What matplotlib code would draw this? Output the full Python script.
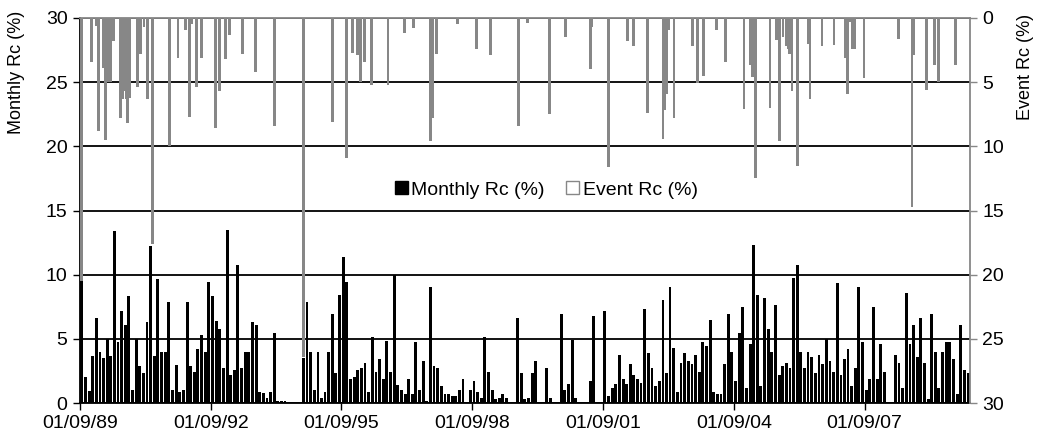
import matplotlib
matplotlib.use("Agg")
import matplotlib.pyplot as plt
import matplotlib.dates as mdates
from matplotlib.patches import Patch
import pandas as pd
import numpy as np

# ---------------- data ----------------
start_month = "1989-09-01"
monthly_rc = [
    17.2, 2.0, 0.9, 3.7, 6.6, 4.0, 3.5, 5.0, 3.7, 13.4,
    4.75, 7.15, 6.05, 8.3, 1.0, 5.0, 2.9, 2.3, 6.3, 12.2,
    3.7, 9.65, 4.0, 4.0, 7.9, 1.0, 3.0, 0.85, 1.0, 7.9,
    2.9, 2.45, 4.2, 5.3, 4.0, 9.45, 8.3, 6.4, 5.75, 2.75,
    13.5, 2.15, 2.6, 10.75, 2.75, 4.0, 4.0, 6.3, 6.05, 0.85,
    0.75, 0.4, 0.85, 5.45, 0.15, 0.15, 0.15, 0.0, 0.0, 0.0,
    0.0, 3.5, 7.9, 4.0, 1.0, 4.0, 0.4, 0.85, 4.0, 6.9,
    2.3, 8.45, 11.35, 9.45, 1.85, 2.0, 2.6, 2.75, 3.15, 0.85,
    5.15, 2.45, 3.45, 1.85, 4.85, 2.45, 10.0, 1.4, 1.0, 0.7,
    1.85, 0.7, 4.75, 1.0, 3.3, 0.15, 9.05, 2.85, 2.75, 1.3,
    0.7, 0.7, 0.55, 0.55, 1.0, 1.85, 0.0, 1.0, 1.7, 0.85,
    0.4, 5.15, 2.45, 1.0, 0.3, 0.4, 0.7, 0.4, 0.0, 0.0,
    6.6, 2.3, 0.3, 0.4, 2.3, 3.3, 0.0, 0.0, 2.75, 0.4,
    0.0, 0.0, 6.9, 1.0, 1.45, 4.9, 0.4, 0.0, 0.0, 0.0,
    1.7, 6.75, 0.0, 0.0, 7.2, 0.55, 1.15, 1.45, 3.75, 1.85,
    1.45, 3.05, 2.15, 1.85, 1.55, 7.3, 3.9, 2.75, 1.3, 1.7,
    8.05, 2.3, 9.05, 4.3, 0.85, 3.15, 3.9, 3.3, 3.05, 3.75,
    2.45, 4.75, 4.45, 6.45, 0.85, 0.7, 0.7, 3.05, 6.9, 4.0,
    1.7, 5.45, 7.45, 1.15, 4.6, 12.35, 8.45, 1.3, 8.2, 5.75,
    4.0, 7.6, 2.15, 2.85, 3.15, 2.75, 9.75, 10.75, 4.0, 2.75,
    4.0, 3.6, 2.3, 3.75, 3.05, 5.0, 3.3, 2.45, 9.35, 2.15,
    3.45, 4.2, 1.3, 2.75, 9.05, 4.75, 1.0, 1.85, 7.45, 1.85,
    4.6, 2.45, 0.0, 0.0, 3.75, 3.15, 1.15, 8.6, 4.6, 6.05,
    3.6, 6.6, 3.15, 0.3, 6.9, 4.0, 1.15, 4.0, 4.75, 4.75,
    3.45, 0.7, 6.05, 2.6, 2.3,
]

event_dates = [
    "1989-09-15", "1989-12-04", "1990-01-19", "1990-02-04", "1990-03-19",
    "1990-04-06", "1990-04-22", "1990-05-13", "1990-06-06", "1990-08-07",
    "1990-08-22", "1990-09-09", "1990-09-25", "1990-10-06", "1990-10-24",
    "1990-12-25", "1991-01-22", "1991-02-19", "1991-03-22", "1991-05-01",
    "1991-09-19", "1991-12-01", "1992-02-01", "1992-03-10", "1992-03-25",
    "1992-05-04", "1992-06-13", "1992-10-07", "1992-11-16", "1993-01-01",
    "1993-02-06", "1993-05-24", "1993-09-13", "1994-02-20", "1994-10-18",
    "1995-06-19", "1995-10-10", "1995-12-01", "1996-01-16", "1996-02-10",
    "1996-03-13", "1996-05-13", "1996-09-25", "1997-02-10", "1997-04-25",
    "1997-09-13", "1997-10-06", "1997-11-09", "1998-05-01", "1998-10-04",
    "1999-02-04", "1999-09-22", "1999-12-07", "2000-06-07", "2000-10-25",
    "2001-05-16", "2001-06-01", "2001-10-19", "2002-03-26", "2002-05-16",
    "2002-09-06", "2003-01-16", "2003-02-01", "2003-02-19", "2003-03-07",
    "2003-04-19", "2003-09-19", "2003-11-04", "2003-12-25", "2004-04-07",
    "2004-06-25", "2004-11-25", "2005-01-15", "2005-02-06", "2005-03-01",
    "2005-07-01", "2005-08-28", "2005-09-18", "2005-10-18", "2005-11-18",
    "2005-12-01", "2005-12-12", "2006-01-01", "2006-02-15", "2006-05-19",
    "2006-06-01", "2006-09-10", "2006-12-19", "2007-03-21", "2007-04-12",
    "2007-04-28", "2007-05-21", "2007-06-06", "2007-08-28", "2008-06-13",
    "2008-10-03", "2008-10-18", "2009-02-01", "2009-04-10", "2009-05-10",
    "2009-10-01",
]
event_rc = [
    20.5, 3.4, 0.6, 8.8, 3.9,
    9.5, 5.0, 5.0, 1.8, 7.8,
    6.3, 5.7, 6.3, 8.2, 6.2,
    5.4, 2.8, 0.7, 6.3, 17.6,
    10.0, 3.1, 0.9, 7.7, 0.5,
    5.4, 3.1, 8.6, 5.7, 3.2,
    1.3, 2.8, 4.2, 8.4, 26.4,
    8.1, 10.9, 2.7, 2.9, 5.0,
    3.4, 5.2, 5.2, 1.2, 0.8,
    9.6, 7.8, 2.8, 0.5, 2.4,
    2.9, 8.4, 0.4, 7.5, 1.5,
    4.0, 0.7, 11.6, 1.8, 2.2,
    7.4, 9.4, 7.2, 5.9, 0.9,
    7.8, 2.2, 5.1, 4.5, 0.9,
    3.4, 7.1, 3.7, 4.6, 12.5,
    7.0, 1.7, 9.6, 1.5, 2.2,
    2.4, 2.8, 5.7, 11.5, 2.0,
    6.3, 2.2, 2.1, 3.1, 5.9,
    0.3, 2.4, 2.4, 4.7, 1.6,
    14.7, 2.9, 5.6, 3.7, 5.0,
    3.7,
]

x_tick_dates = ["1989-09-01", "1992-09-01", "1995-09-01", "1998-09-01",
                "2001-09-01", "2004-09-01", "2007-09-01"]
x_tick_labels = ["01/09/89", "01/09/92", "01/09/95", "01/09/98",
                 "01/09/01", "01/09/04", "01/09/07"]
y_ticks = [0, 5, 10, 15, 20, 25, 30]

# ---------------- style ----------------
plt.rcParams["font.family"] = ["Liberation Sans", "DejaVu Sans"]
GREY = "#878787"
FS = 14

months = pd.date_range(start_month, periods=len(monthly_rc), freq="MS")
x_end = months[-1] + pd.offsets.MonthBegin(1)
mx = mdates.date2num(months)
ex = mdates.date2num(pd.to_datetime(event_dates))

fig = plt.figure(figsize=(10.43, 4.34), dpi=100)
ax = fig.add_axes([80 / 1043, 1 - 403 / 434, 890 / 1043, 385 / 434])

ax.bar(mx + 3, monthly_rc, width=24, align="edge", color="black",
       edgecolor="none", zorder=2)
ax.set_ylim(0, 30)
ax.set_xlim(mdates.date2num(months[0]), mdates.date2num(x_end))
ax.set_yticks(y_ticks)
ax.set_yticklabels([str(v) for v in y_ticks], fontsize=FS)
ax.set_xticks(mdates.date2num(pd.to_datetime(x_tick_dates)))
ax.set_xticklabels(x_tick_labels, fontsize=FS)
ax.grid(axis="y", color="black", linewidth=1.3, zorder=1)
ax.set_axisbelow(True)
ax.tick_params(axis="y", direction="out", length=5, width=1, color="black", pad=4)
ax.tick_params(axis="x", direction="out", length=5, width=1, color="black", pad=4)
ax.spines["left"].set_color("black")
ax.spines["left"].set_linewidth(1.3)
ax.spines["bottom"].set_color("black")
ax.spines["bottom"].set_linewidth(1.3)
ax.spines["top"].set_color(GREY)
ax.spines["top"].set_linewidth(1.3)
ax.spines["right"].set_visible(False)

ax2 = ax.twinx()
ax2.bar(ex, event_rc, width=24, align="center", color=GREY,
        edgecolor="none", zorder=3)
ax2.set_ylim(30, 0)
ax2.set_yticks(y_ticks)
ax2.set_yticklabels([str(v) for v in y_ticks], fontsize=FS)
ax2.tick_params(axis="y", direction="out", length=5, width=1, color=GREY, pad=4)
ax2.spines["right"].set_color(GREY)
ax2.spines["right"].set_linewidth(1.3)
for s in ["left", "top", "bottom"]:
    ax2.spines[s].set_visible(False)

fig.text(17 / 1043, 1 - 72 / 434, "Monthly Rc (%)", rotation=90,
         ha="center", va="center", fontsize=13)
fig.text(1025 / 1043, 1 - 67 / 434, "Event Rc (%)", rotation=90,
         ha="center", va="center", fontsize=13)

handles = [Patch(facecolor="black", edgecolor="black"),
           Patch(facecolor="white", edgecolor=GREY)]
leg = ax2.legend(handles, ["Monthly Rc (%)", "Event Rc (%)"], ncol=2,
                 loc="center", bbox_to_anchor=(0.524, 0.553), frameon=False,
                 fontsize=14, handlelength=0.65, handleheight=0.65,
                 handletextpad=0.2, columnspacing=1.1)

fig.savefig("out.png", dpi=100)
